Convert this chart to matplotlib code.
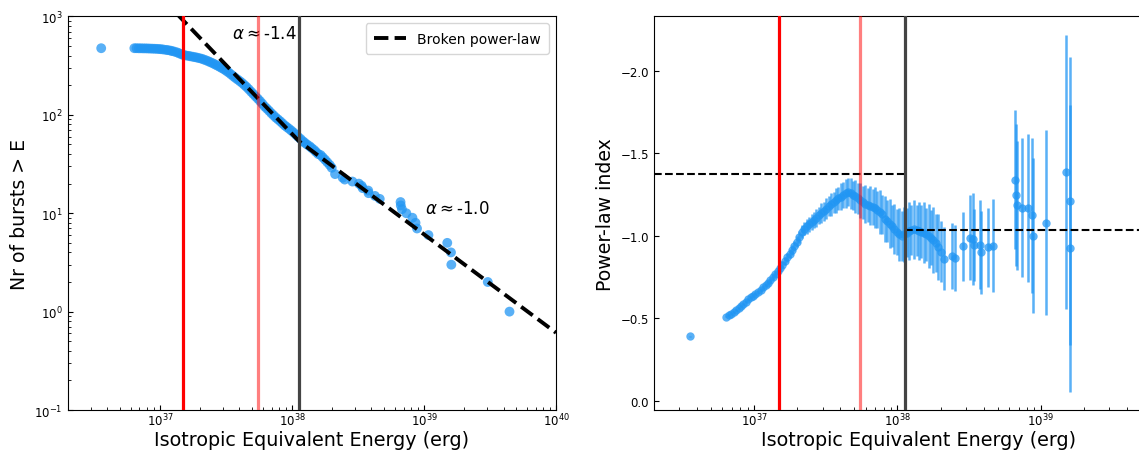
import numpy as np
import matplotlib
matplotlib.use('Agg')
import matplotlib.pyplot as plt

# burst energies (erg): dense part of the sample, then the sparse high-energy tail
energy_band = [3.59e36,
               6.40e36, 6.65e36, 6.92e36, 7.19e36, 7.48e36, 7.78e36, 8.09e36, 8.41e36, 8.75e36, 9.10e36,
               9.46e36, 9.84e36, 1.02e37, 1.06e37, 1.11e37, 1.15e37, 1.20e37, 1.24e37, 1.29e37, 1.35e37,
               1.40e37, 1.46e37, 1.51e37, 1.57e37, 1.64e37, 1.70e37, 1.77e37, 1.84e37, 1.91e37, 1.99e37,
               2.07e37, 2.15e37, 2.24e37, 2.33e37, 2.42e37, 2.52e37, 2.62e37, 2.72e37, 2.83e37, 2.94e37,
               3.06e37, 3.18e37, 3.31e37, 3.44e37, 3.58e37, 3.72e37, 3.87e37, 4.03e37, 4.19e37, 4.36e37,
               4.53e37, 4.71e37, 4.90e37, 5.09e37, 5.30e37, 5.51e37, 5.73e37, 5.96e37, 6.19e37, 6.44e37,
               6.70e37, 6.97e37, 7.24e37, 7.53e37, 7.83e37, 8.15e37, 8.47e37, 8.81e37, 9.16e37, 9.53e37,
               9.91e37, 1.03e38, 1.07e38, 1.11e38, 1.16e38, 1.21e38, 1.25e38, 1.30e38, 1.36e38, 1.41e38,
               1.47e38, 1.52e38, 1.58e38, 1.65e38, 1.71e38, 1.78e38, 1.85e38, 1.93e38, 2.00e38]
energy_tail = [2.12e38, 2.42e38, 2.51e38, 2.87e38, 3.21e38, 3.37e38, 3.43e38, 3.78e38, 3.80e38,
               4.25e38, 4.62e38, 6.64e38, 6.67e38, 6.80e38, 7.35e38, 8.17e38, 8.62e38, 8.85e38,
               1.08e39, 1.50e39, 1.60e39, 1.61e39, 3.04e39, 4.44e39]

# cumulative number of bursts above E
n_band = [476,
          476, 476, 475, 475, 474, 474, 473, 472, 471, 470,
          469, 467, 465, 462, 458, 455, 450, 445, 439, 431,
          422, 412, 406, 402, 398, 394, 390, 386, 382, 377,
          372, 365, 358, 350, 342, 334, 325, 317, 308, 299,
          290, 280, 270, 259, 248, 238, 229, 220, 211, 201,
          192, 182, 172, 163, 154, 146, 138, 130, 122, 116,
          110, 104, 99, 94, 90, 86, 82, 78, 75, 72,
          69, 66, 63, 60, 57, 54, 52, 50, 48, 46,
          44, 42, 40, 39, 37, 35, 33, 31, 29]
n_tail = [25, 23, 22, 21, 20, 19, 18, 17, 16,
          15, 14, 13, 12, 11, 10, 9, 8, 7,
          6, 5, 4, 3, 2, 1]

# power-law index of the distribution above E, with 1-sigma errors
index_band = [-0.392,
              -0.511, -0.520, -0.529, -0.540, -0.552, -0.563, -0.574, -0.588, -0.602, -0.615,
              -0.627, -0.638, -0.650, -0.662, -0.675, -0.688, -0.702, -0.716, -0.732, -0.750,
              -0.768, -0.787, -0.806, -0.826, -0.849, -0.870, -0.893, -0.916, -0.939, -0.965,
              -0.995, -1.025, -1.045, -1.058, -1.070, -1.083, -1.097, -1.110, -1.124, -1.137,
              -1.150, -1.165, -1.180, -1.192, -1.203, -1.215, -1.227, -1.238, -1.248, -1.260,
              -1.268, -1.258, -1.246, -1.240, -1.228, -1.215, -1.203, -1.192, -1.188, -1.182,
              -1.176, -1.170, -1.160, -1.145, -1.130, -1.105, -1.090, -1.075, -1.060, -1.040,
              -1.025, -1.010, -1.000, -1.010, -1.020, -1.030, -1.035, -1.040, -1.035, -1.030,
              -1.025, -1.020, -1.010, -1.000, -0.990, -0.975, -0.955, -0.930, -0.905]
err_band = [0.004,
            0.004, 0.004, 0.005, 0.005, 0.005, 0.006, 0.006, 0.007, 0.007, 0.008,
            0.008, 0.009, 0.010, 0.011, 0.012, 0.013, 0.014, 0.015, 0.016, 0.017,
            0.018, 0.019, 0.020, 0.022, 0.024, 0.026, 0.028, 0.030, 0.032, 0.034,
            0.036, 0.040, 0.038, 0.045, 0.046, 0.050, 0.048, 0.055, 0.052, 0.060,
            0.058, 0.064, 0.062, 0.070, 0.066, 0.076, 0.072, 0.082, 0.078, 0.088,
            0.086, 0.092, 0.088, 0.100, 0.094, 0.106, 0.098, 0.114, 0.104, 0.118,
            0.110, 0.124, 0.112, 0.132, 0.120, 0.140, 0.126, 0.146, 0.130, 0.152,
            0.140, 0.160, 0.150, 0.168, 0.150, 0.176, 0.150, 0.180, 0.155, 0.178,
            0.160, 0.186, 0.162, 0.192, 0.168, 0.198, 0.176, 0.200, 0.185]
index_tail = [-0.863, -0.879, -0.867, -0.938, -0.990, -0.980, -0.944, -0.946, -0.900,
              -0.930, -0.942, -1.342, -1.247, -1.186, -1.172, -1.168, -1.125, -1.000,
              -1.081, -1.386, -1.212, -0.925, np.nan, np.nan]
err_tail = [0.19, 0.20, 0.20, 0.21, 0.26, 0.28, 0.22, 0.27, 0.25,
            0.24, 0.28, 0.42, 0.43, 0.39, 0.42, 0.45, 0.47, 0.47,
            0.56, 0.83, 0.87, 0.87, np.nan, np.nan]

# broken power-law fit (vertices on the log-log axes)
bpl_energy = [1.0e37, 1.13e38, 1.0e40]
bpl_n = [1610, 54, 0.61]
alpha_low, alpha_high = -1.378, -1.036
e_break = 1.13e38

# marked energies
e_red, e_pink = 1.5e37, 5.5e37

energy = energy_band + energy_tail
n_above = n_band + n_tail
pl_index = index_band + index_tail
pl_err = err_band + err_tail

blue = '#2196f3'

fig = plt.figure(figsize=(11.39, 4.52), dpi=100)
ax1 = fig.add_axes([0.0594, 0.0907, 0.4288, 0.8706])
ax2 = fig.add_axes([0.5742, 0.0907, 0.4654, 0.8706])

# left: cumulative distribution
ax1.scatter(energy, n_above, s=50, color=blue, alpha=0.75, edgecolors='none', zorder=2)
ax1.plot(bpl_energy, bpl_n, 'k--', lw=2.8, label='Broken power-law', zorder=4)
ax1.set_xscale('log')
ax1.set_yscale('log')
ax1.set_xlim(2e36, 1e40)
ax1.set_ylim(0.1, 1000)
ax1.text(3.52e37, 680, r'$\alpha \approx$-1.4', fontsize=12, va='center')
ax1.text(1.01e39, 11.3, r'$\alpha \approx$-1.0', fontsize=12, va='center')
ax1.set_ylabel('Nr of bursts > E', fontsize=13.6)
ax1.legend(loc='upper right', fontsize=10, borderpad=0.6, handlelength=2.3)

# right: power-law index above E
ax2.errorbar(energy, pl_index, yerr=pl_err, fmt='o', ms=6, color=blue, alpha=0.75,
             mec='none', elinewidth=1.8, capsize=0, zorder=2)
ax2.hlines(alpha_low, 2e36, e_break, colors='k', linestyles='--', lw=1.5, zorder=4)
ax2.hlines(alpha_high, e_break, 1e40, colors='k', linestyles='--', lw=1.5, zorder=4)
ax2.set_xscale('log')
ax2.set_xlim(2e36, 1e40)
ax2.set_xticks([1e37, 1e38, 1e39])
ax2.set_ylim(0.055, -2.33)
ax2.set_yticks([0.0, -0.5, -1.0, -1.5, -2.0])
ax2.set_ylabel('Power-law index', fontsize=13.6)

for ax in (ax1, ax2):
    ax.axvline(e_red, color='red', lw=2.3, zorder=5)
    ax.axvline(e_pink, color='red', alpha=0.5, lw=2.3, zorder=5)
    ax.axvline(e_break, color='#444444', lw=2.3, zorder=5)
    ax.set_xlabel('Isotropic Equivalent Energy (erg)', fontsize=13.8, labelpad=1)
    ax.tick_params(which='both', direction='in', labelsize=8.5)
    ax.tick_params(axis='x', which='both', pad=1.5)

fig.savefig('out.png', dpi=100)
